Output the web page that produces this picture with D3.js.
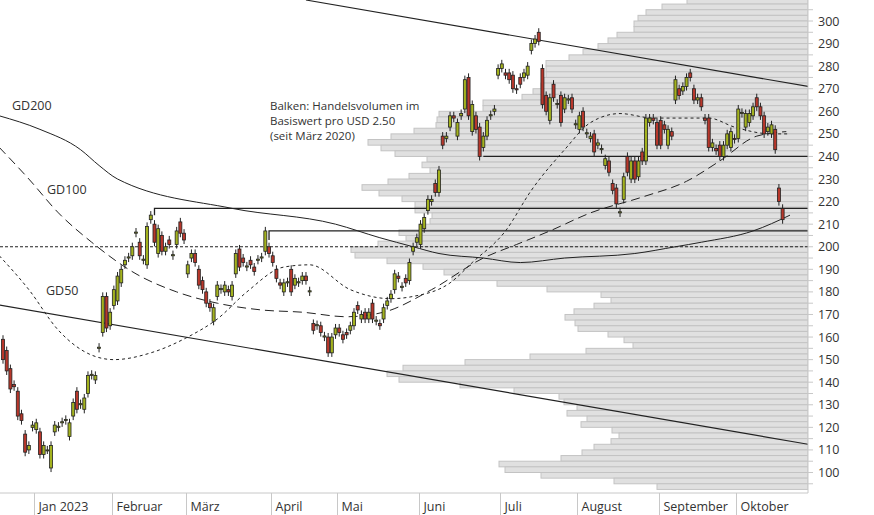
<!DOCTYPE html>
<html>
<head>
<meta charset="utf-8">
<script src="https://cdn.jsdelivr.net/npm/d3@7"></script>
<style>
  body { margin: 0; background: #fff; }
  svg { font-family: "Open Sans", "Noto Sans", sans-serif; }
</style>
</head>
<body>
<svg id="chart" width="874" height="515"></svg>
<script>
// candles: [open, close]
var candles = [
  [159,150],[154,145],[146,137],[139,138],[136,125],[126,123],[117,109],[110,112],[120,121],[119,122],
  [118,108],[108,112],[110,110],[102,112],[118,121],[120,120.5],[122,122.5],[123,123.5],[116,122],[125,131],
  [136,128],[130,130.5],[128,133],[135,143],[143,143.5],[141,143],[155,155.5],[162,178],[178,164],[165,171],
  [174,181],[176,187],[184,190],[192,194],[195,195.5],[196,200],[206,206.5],[202,196],[194,194.5],[192,209],
  [212,214],[210,202],[197,208],[205,198],[198,200],[203,201],[196,196.5],[201,207],[211,206],[206,203],
  [188,192],[195,197],[197,193],[190,183],[185,181],[180,175],[175,173],[167,173],[178,183],[181,181.5],
  [180,183],[181,180],[178,183],[188,197],[199,191],[195,193],[191,191.5],[194,192],[191,189],[194,194.5],
  [195,195.5],[198,207],[200,197],[196,193],[190,186],[184,183],[180,184],[184,184.5],[190,180],[183,186],
  [184,184.5],[185,187],[187,185],[180,180.5],[166,163],[165,165.5],[165,162],[160,160.5],[160,153],[153,160],
  [161,164],[164,162],[161,159],[162,161],[163,165],[165,171],[174,172],[168,170],[171,168],[168,171],
  [175,168],[167,167.5],[166,165],[168,173],[174,176],[177,179],[181,188],[187,186],[182,182.5],[186,184],
  [185,193],[198,200],[202,204],[201,210],[208,213],[216,221],[220,221],[228,224],[224,234],[249,245],
  [248,249],[253,258],[258,257],[249,255],[258,259],[261,274],[275,258],[251,263],[258,252],[253,240],
  [244,249],[249,256],[258,258.5],[260,261],[276,279],[279,281],[277,276],[277,274],[276,270],[270,269.5],
  [275,272],[275,277],[276,280],[287,290],[290,292],[295,291],[279,263],[267,260],[256,266],[272,266],
  [263,263.5],[267,255],[261,266],[265,265.5],[266,261],[254,254.5],[252,258],[260,253],[250,250.5],[248,249],
  [250,242],[245,246],[243,243.5],[236,239],[238,233],[228,225],[226,219],[215,215.5],[221,231],[240,233],
  [230,238],[238,230],[231,238],[242,238],[238,257],[255,257],[257,256],[255,245],[256,245],[254,252],
  [245,252],[251,249],[265,274],[270,267],[269,271],[271,275],[277,275],[270,265],[265,266],[266,262],
  [257,256],[257,244],[244,246],[243.5,242.5],[245,240],[240,245],[245,250],[244,251],[248,247.5],[248,261],
  [259,259.5],[253,259],[255,259],[258,262],[266,262],[262,258],[258,250],[251,253],[250,254],[252,243],
  [226,220],[217,212]
];

// volume profile per 2.50 bin, from 310 downward
var volumes = [121,146,162,170,174,174,191,200,210,225,239,262,262,262,265,267,275,286,325,325,
  369,371,372,394,417,440,427,413,381,386,378,399,420,446,429,406,393,393,376,378,386,409,402,430,
  457,453,421,385,364,356,311,261,207,197,214,234,243,233,230,200,184,175,222,278,343,405,421,409,
  348,294,249,244,231,241,221,227,196,189,197,214,226,247,309,303,267,194,151];
var volTop = 310, volStep = 2.5;

// moving averages [candle index, value]
var gd200 = [[-1,258],[10,252],[21,243],[26,236],[31,230],[62,217],[90,210],[102,204],[111,200],[118,197],
  [130,195],[140,193],[152,195],[171,197],[182,200],[189,202],[203,207],[213,214]];
var gd100 = [[-1,244],[7,230],[15,215],[24,202],[36,188],[47,180],[58,175],[70,172],[81,171],[93,169],
  [103,171],[116,181],[130,195],[139,201],[148,207],[159,215],[173,222],[185,229],[194,238],[204,249],[212,251]];
var gd50 = [[-1,196],[7,181],[15,163],[24,152],[30,150],[40,153],[50,160],[58,168],[66,180],[76,191],
  [83,192],[94,181],[105,177],[111,178],[121,184],[127,193],[136,207],[143,225],[152,243],[159,255],
  [167,259],[176,257],[191,257],[198,253],[208,250],[213,250]];

var trendUpper = [[82,309.3],[219,270.7]];
var trendLower = [[-1,174.2],[219,112.2]];
var levels = [{from:41, v:217, drop:3}, {from:72, v:207, drop:4}, {from:130, v:240, drop:0}];
var dottedLevel = 200;

var monthNames = ["Jan 2023","Februar","März","April","Mai","Juni","Juli","August","September","Oktober"];
var holidays = ["2022-12-26","2023-01-02","2023-04-07","2023-04-10","2023-05-18","2023-08-01"];
var yTicks = d3.range(100, 301, 10);

// trading days
var fmt = d3.timeFormat("%Y-%m-%d");
var dates = [];
var d = new Date(2022, 11, 19);
while (dates.length < candles.length) {
  var wd = d.getDay();
  if (wd !== 0 && wd !== 6 && holidays.indexOf(fmt(d)) < 0) dates.push(new Date(d));
  d = d3.timeDay.offset(d, 1);
}

var svg = d3.select("#chart");
var plotR = 808, plotB = 493;
var x = d3.scaleLinear().domain([0, 213]).range([3, 790]);
var y = d3.scaleLinear().domain([100, 300]).range([472.5, 21]);
var xv = d3.scaleLinear().domain([0, 100]).range([plotR, plotR - 100]);

svg.append("defs").append("clipPath").attr("id", "clip")
  .append("rect").attr("width", plotR).attr("height", plotB);
var plot = svg.append("g").attr("clip-path", "url(#clip)");

// volume profile
plot.selectAll(".vol").data(volumes).enter().append("rect")
  .attr("x", function(v) { return xv(v); })
  .attr("y", function(v, k) { return y(volTop - volStep * k); })
  .attr("width", function(v) { return plotR - xv(v); })
  .attr("height", function(v, k) { return y(volTop - volStep * (k + 1)) - y(volTop - volStep * k); })
  .attr("fill", "#e0e0e0").attr("stroke", "#c3c3c3").attr("stroke-width", 1);

var line = d3.line().x(function(p) { return x(p[0]); }).y(function(p) { return y(p[1]); });
var smooth = d3.line().curve(d3.curveMonotoneX).x(function(p) { return x(p[0]); }).y(function(p) { return y(p[1]); });

plot.append("line").attr("x1", 0).attr("x2", plotR).attr("y1", y(dottedLevel)).attr("y2", y(dottedLevel))
  .attr("stroke", "#222").attr("stroke-dasharray", "3,2");

[trendUpper, trendLower].forEach(function(t) {
  plot.append("path").attr("d", line(t)).attr("fill", "none").attr("stroke", "#222").attr("stroke-width", 1.1);
});

levels.forEach(function(l) {
  plot.append("path")
    .attr("d", line([[l.from, l.v - l.drop], [l.from, l.v], [220, l.v]]))
    .attr("fill", "none").attr("stroke", "#222").attr("stroke-width", 1.3);
});

plot.append("path").attr("d", smooth(gd200)).attr("fill", "none").attr("stroke", "#222").attr("stroke-width", 1);
plot.append("path").attr("d", smooth(gd100)).attr("fill", "none").attr("stroke", "#222").attr("stroke-dasharray", "9,5");
plot.append("path").attr("d", smooth(gd50)).attr("fill", "none").attr("stroke", "#222").attr("stroke-dasharray", "3,3");

// candles
var cg = plot.selectAll(".c").data(candles).enter().append("g");
cg.append("line")
  .attr("x1", function(c, i) { return x(i); }).attr("x2", function(c, i) { return x(i); })
  .attr("y1", function(c) { return y(Math.max(c[0], c[1]) + 1.8); })
  .attr("y2", function(c) { return y(Math.min(c[0], c[1]) - 1.8); })
  .attr("stroke", "#222").attr("stroke-width", 1);
cg.append("rect")
  .attr("x", function(c, i) { return x(i) - 1.5; })
  .attr("width", 3)
  .attr("y", function(c) { return y(Math.max(c[0], c[1])); })
  .attr("height", function(c) { return Math.max(1, y(Math.min(c[0], c[1])) - y(Math.max(c[0], c[1]))); })
  .attr("fill", function(c) { return c[1] >= c[0] ? "#a3b21e" : "#b8372b"; })
  .attr("stroke", "#222").attr("stroke-width", 0.8);

// right axis
var ax = svg.append("g").attr("transform", "translate(" + plotR + ",0)");
ax.append("line").attr("y1", 0).attr("y2", plotB).attr("stroke", "#c8c8c8");
ax.selectAll(".t").data(d3.range(95, 306, 5)).enter().append("line")
  .attr("x1", 0).attr("x2", 5).attr("y1", function(v) { return y(v); }).attr("y2", function(v) { return y(v); })
  .attr("stroke", "#c8c8c8");
ax.selectAll(".l").data(yTicks).enter().append("text")
  .attr("x", 10).attr("y", function(v) { return y(v) + 4.5; })
  .attr("font-size", 12.5).attr("fill", "#333").text(function(v) { return v; });

// bottom axis
svg.append("line").attr("x1", 0).attr("x2", plotR).attr("y1", plotB).attr("y2", plotB).attr("stroke", "#c8c8c8");
var monthStarts = [];
dates.forEach(function(dt, i) {
  if (dt.getFullYear() === 2023 && (i === 0 || dates[i - 1].getMonth() !== dt.getMonth())) monthStarts.push(i);
});
monthStarts.forEach(function(i, k) {
  var px = Math.round(x(i) - 2) + 0.5;
  svg.append("line").attr("x1", px).attr("x2", px).attr("y1", plotB).attr("y2", 515).attr("stroke", "#c8c8c8");
  svg.append("text").attr("x", px + 4).attr("y", 511).attr("font-size", 12.5).attr("fill", "#333").text(monthNames[k]);
});

// labels
var labels = [["GD200", 12, 110], ["GD100", 47, 194], ["GD50", 46, 295]];
labels.forEach(function(l) {
  svg.append("text").attr("x", l[1]).attr("y", l[2]).attr("font-size", 12.5).attr("fill", "#333").text(l[0]);
});
["Balken: Handelsvolumen im", "Basiswert pro USD 2.50", "(seit März 2020)"].forEach(function(t, k) {
  svg.append("text").attr("x", 270).attr("y", 110 + k * 15).attr("font-size", 11.5).attr("fill", "#333").text(t);
});
</script>
</body>
</html>
